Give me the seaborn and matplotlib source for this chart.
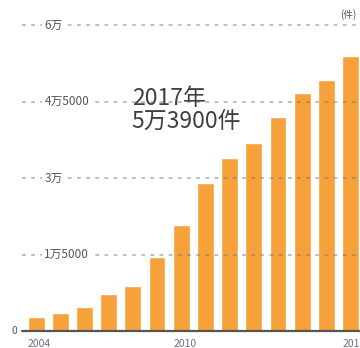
import matplotlib
matplotlib.use("Agg")
import matplotlib.pyplot as plt
import matplotlib.transforms as mtransforms
import seaborn as sns
import pandas as pd

years = [str(y) for y in range(2004, 2018)]
counts = [2700, 3500, 4700, 7300, 8800, 14500, 20800, 29000, 33900, 36800,
          41900, 46600, 49200, 53900]
tick_values = [15000, 30000, 45000, 60000]
tick_labels = ["1万5000", "3万", "4万5000", "6万"]
shown_years = ["2004", "2010", "2017"]
unit_label = "(件)"
annotation = "2017年\n5万3900件"

sns.set_theme(style="white")
plt.rcParams["font.family"] = ["Noto Sans CJK JP", "DejaVu Sans"]

df = pd.DataFrame({"year": years, "count": counts})

fig = plt.figure(figsize=(3.6, 3.48), dpi=100)
ax = fig.add_axes([22 / 360, 17 / 348, 338 / 360, 0.9086])

sns.barplot(data=df, x="year", y="count", color="#F6A13A", width=0.7,
            saturation=1, ax=ax, zorder=2)

ax.set_xlim(-0.58, 13.39)
ax.set_ylim(0, 62000)
for s in ax.spines.values():
    s.set_visible(False)
ax.set_xlabel("")
ax.set_ylabel("")
ax.set_yticks([])
ax.set_xticks([])

# baseline
ax.axhline(0, color="#555555", lw=1.6, zorder=3, clip_on=False)

# dashed gridlines with inline labels
blend = mtransforms.blended_transform_factory(ax.transAxes, ax.transData)
for v, lab in zip(tick_values, tick_labels):
    ax.axhline(v, color="#777777", lw=1.1, ls=(0, (2.5, 3.5)), alpha=0.6,
               zorder=3)
    ax.text(0.066, v, lab, transform=blend, ha="left", va="center",
            fontsize=8.5, color="#555555", zorder=4,
            bbox=dict(boxstyle="square,pad=0.2", fc="white", ec="none"))

ax.text(-0.024, 0, "0", transform=blend, ha="center", va="center",
        fontsize=7.5, color="#555555")

# year labels
for i, y in enumerate(years):
    if y in shown_years:
        ax.text(i + 0.15, -1500, y, ha="center", va="top", fontsize=7.5,
                color="#6d6d8a", clip_on=False)

# unit
fig.text(348 / 360, 1 - 15 / 348, unit_label, ha="center", va="center",
         fontsize=7, color="#555555")

# annotation
ax.text(3.95, 43300, annotation, ha="left", va="center", fontsize=16.5,
        color="#3f3f3f", linespacing=1.0, zorder=5)

fig.savefig("out.png", dpi=100)
